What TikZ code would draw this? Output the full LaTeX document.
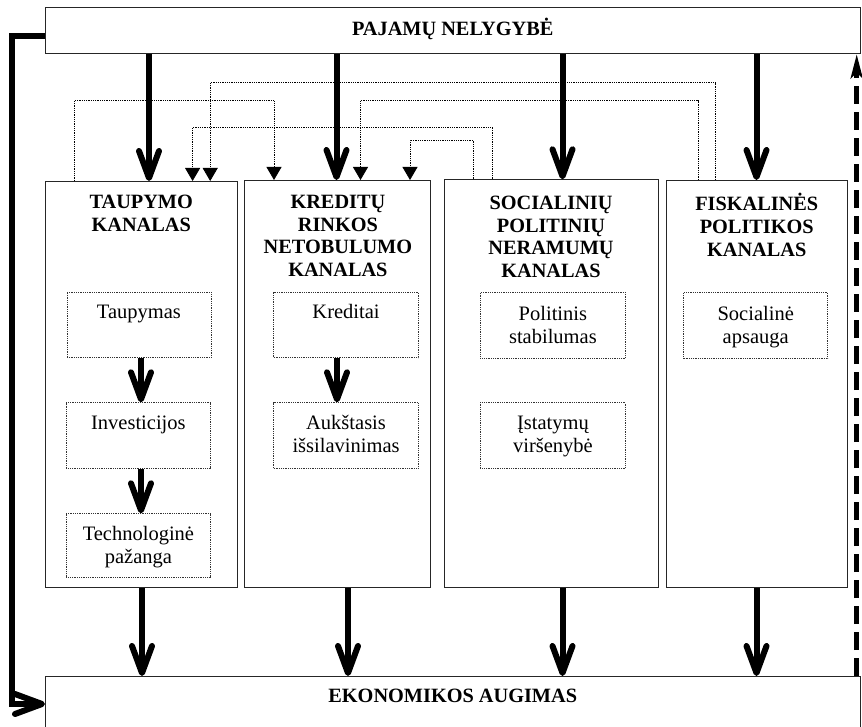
\documentclass[tikz,border=0pt]{standalone}
\usepackage{fontspec}
\setmainfont{Liberation Serif}
\usetikzlibrary{arrows.meta}
\begin{document}
\begin{tikzpicture}[x=1pt,y=-1pt,
  frame/.style={draw=black!85, line width=1pt, inner sep=0pt, anchor=north west},
  dotbox/.style={draw=black!80, line width=0.8pt, densely dotted, inner sep=0pt, anchor=north west},
  head/.style={font=\fontsize{20.3}{22.7}\selectfont\bfseries, align=center, anchor=north, inner sep=0pt},
  lbl/.style={font=\fontsize{20.5}{22.7}\selectfont, align=center, anchor=north, inner sep=0pt},
  thickarrow/.style={line width=6pt, -{Straight Barb[length=27pt,width=20pt,line width=6pt,round]}},
  dotarrow/.style={line width=0.8pt, densely dotted, -{Triangle[length=13pt,width=15pt]}},
  dasharrow/.style={line width=4.5pt, dash pattern=on 18pt off 8pt, -{Stealth[length=24pt,width=12pt,inset=6pt]}}
]
\useasboundingbox (0,0) rectangle (862,727);

% main boxes
\node[frame, minimum width=814.5pt, minimum height=46pt] (inc) at (45,7.3) {};
\node[frame, minimum width=814.5pt, minimum height=70pt] (eko) at (45,676) {};
\node[frame, minimum width=191.5pt, minimum height=406pt] (c1) at (45,181) {};
\node[frame, minimum width=186pt, minimum height=407pt] (c2) at (244.4,180) {};
\node[frame, minimum width=214pt, minimum height=407.7pt] (c3) at (443.5,179.3) {};
\node[frame, minimum width=181.5pt, minimum height=406.5pt] (c4) at (665.5,180) {};

% inner boxes
\node[dotbox, minimum width=144pt, minimum height=65.6pt] (taup) at (66.5,291.7) {};
\node[dotbox, minimum width=144pt, minimum height=65.4pt] (inv) at (66,402.3) {};
\node[dotbox, minimum width=144pt, minimum height=63.4pt] (tech) at (66,513.3) {};
\node[dotbox, minimum width=144.7pt, minimum height=65.6pt] (kred) at (273.3,291.7) {};
\node[dotbox, minimum width=144.7pt, minimum height=65.4pt] (auk) at (273.3,402.3) {};
\node[dotbox, minimum width=145pt, minimum height=66pt] (pol) at (480,292) {};
\node[dotbox, minimum width=145pt, minimum height=65.4pt] (ist) at (480,402.3) {};
\node[dotbox, minimum width=144pt, minimum height=66pt] (soc) at (683.3,292) {};

% texts
\node[head, yshift=-10.6pt] (inct) at (inc.north) {\strut PAJAMŲ NELYGYBĖ};
\node[head, yshift=-10.1pt] (ekot) at (eko.north) {\strut EKONOMIKOS AUGIMAS};
\node[head, yshift=-11.4pt] (c1t) at (c1.north) {\strut TAUPYMO\\KANALAS};
\node[head, yshift=-12.4pt] (c2t) at (c2.north) {\strut KREDITŲ\\RINKOS\\NETOBULUMO\\KANALAS};
\node[head, yshift=-14.1pt] (c3t) at (c3.north) {\strut SOCIALINIŲ\\POLITINIŲ\\NERAMUMŲ\\KANALAS};
\node[head, yshift=-13.4pt] (c4t) at (c4.north) {\strut FISKALINĖS\\POLITIKOS\\KANALAS};
\node[lbl, yshift=-11.1pt] (taupt) at (taup.north) {\strut Taupymas};
\node[lbl, yshift=-11.1pt] (invt) at (inv.north) {\strut Investicijos};
\node[lbl, yshift=-11.1pt] (techt) at (tech.north) {\strut Technologinė\\pažanga};
\node[lbl, yshift=-11.1pt] (kredt) at (kred.north) {\strut Kreditai};
\node[lbl, yshift=-11.1pt] (aukt) at (auk.north) {\strut Aukštasis\\išsilavinimas};
\node[lbl, yshift=-12.5pt] (polt) at (pol.north) {\strut Politinis\\stabilumas};
\node[lbl, yshift=-11.1pt] (istt) at (ist.north) {\strut Įstatymų\\viršenybė};
\node[lbl, yshift=-12.5pt] (soct) at (soc.north) {\strut Socialinė\\apsauga};

% x positions
\coordinate (xa1) at (149,0);
\coordinate (xa2) at (336.5,0);
\coordinate (xa3) at (562.5,0);
\coordinate (xa4) at (756.5,0);
\coordinate (xb1) at (142,0);
\coordinate (xb2) at (348,0);
\coordinate (xb3) at (562.5,0);
\coordinate (xb4) at (756.5,0);
\coordinate (xi1) at (141,0);
\coordinate (xi2) at (337,0);
\coordinate (xd) at (856.7,0);

% thick arrows
\draw[thickarrow] (inc.south -| xa1) -- (c1.north -| xa1);
\draw[thickarrow] (inc.south -| xa2) -- (c2.north -| xa2);
\draw[thickarrow] (inc.south -| xa3) -- (c3.north -| xa3);
\draw[thickarrow] (inc.south -| xa4) -- (c4.north -| xa4);
\draw[thickarrow] (c1.south -| xb1) -- (eko.north -| xb1);
\draw[thickarrow] (c2.south -| xb2) -- (eko.north -| xb2);
\draw[thickarrow] (c3.south -| xb3) -- (eko.north -| xb3);
\draw[thickarrow] (c4.south -| xb4) -- (eko.north -| xb4);
\draw[thickarrow] (taup.south -| xi1) -- (inv.north -| xi1);
\draw[thickarrow] (inv.south -| xi1) -- (tech.north -| xi1);
\draw[thickarrow] (kred.south -| xi2) -- (auk.north -| xi2);

% feedback line on the left
\coordinate (fbtop) at (12,36);
\coordinate (fbbot) at (12,704);
\draw[thickarrow] (inc.west |- fbtop) -- (fbtop) -- (fbbot) -- (eko.west |- fbbot);

% dashed feedback on the right
\draw[dasharrow] (eko.north -| xd) -- (inc.south -| xd);

% dotted connectors
\coordinate (d1a) at (74.3,100.7);
\coordinate (d1b) at (274,100.7);
\draw[dotarrow] (c1.north -| d1a) -- (d1a) -- (d1b) -- (c2.north -| d1b);
\coordinate (d2a) at (715.5,82.7);
\coordinate (d2b) at (210.2,82.7);
\draw[dotarrow] (c4.north -| d2a) -- (d2a) -- (d2b) -- (c1.north -| d2b);
\coordinate (d3a) at (492.6,127.3);
\coordinate (d3b) at (192.6,127.3);
\draw[dotarrow] (c3.north -| d3a) -- (d3a) -- (d3b) -- (c1.north -| d3b);
\coordinate (d4a) at (698,100.7);
\coordinate (d4b) at (360.5,100.7);
\draw[dotarrow] (c4.north -| d4a) -- (d4a) -- (d4b) -- (c2.north -| d4b);
\coordinate (d5a) at (473.3,140);
\coordinate (d5b) at (410,140);
\draw[dotarrow] (c3.north -| d5a) -- (d5a) -- (d5b) -- (c2.north -| d5b);
\end{tikzpicture}
\end{document}
